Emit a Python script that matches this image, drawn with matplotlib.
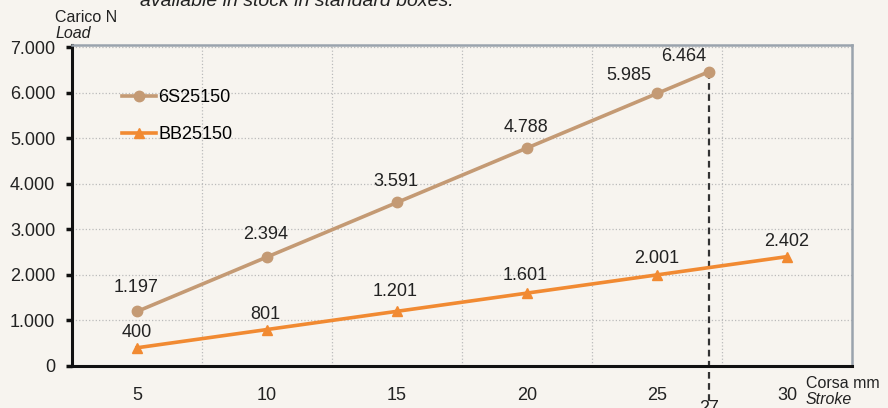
import matplotlib.pyplot as plt
from matplotlib.ticker import FuncFormatter

plt.rcParams['font.family'] = ['Liberation Sans', 'DejaVu Sans']

# --- data ---
x_6s = [5, 10, 15, 20, 25, 27]
load_6s = [1197, 2394, 3591, 4788, 5985, 6464]
x_bb = [5, 10, 15, 20, 25, 30]
load_bb = [400, 801, 1201, 1601, 2001, 2402]
x_ticks = [5, 10, 15, 20, 25, 30]
y_ticks = [0, 1000, 2000, 3000, 4000, 5000, 6000, 7000]

bg = '#f7f4ef'
tan = '#c49a74'
orange = '#f18a32'
ink = '#222222'


def dotted(v):
    return f'{int(v):,}'.replace(',', '.')


fig = plt.figure(figsize=(8.88, 4.08), dpi=100, facecolor=bg)
ax = fig.add_axes([72 / 888, 1 - 366 / 408, 780 / 888, 321 / 408], facecolor=bg)

ax.plot(x_6s, load_6s, color=tan, lw=2.6, marker='o', ms=7.5, label='6S25150', zorder=3)
ax.plot(x_bb, load_bb, color=orange, lw=2.6, marker='^', ms=7.5, label='BB25150', zorder=3)

# value labels (pixel offsets from each point)
off_6s = [(-1, 17), (-1, 16), (-1, 15), (-1, 15), (-20, 13), (-18, 11)]
off_bb = [(0, 11), (-1, 11), (-1, 14), (-1, 13), (0, 12), (0, 11)]
for xs, ys, offs in [(x_6s, load_6s, off_6s), (x_bb, load_bb, off_bb)]:
    for xv, yv, (dx, dy) in zip(xs, ys, offs):
        ax.annotate(dotted(yv), (xv, yv), xytext=(dx, dy), textcoords='offset points',
                    ha='center', va='center', fontsize=13, color=ink)

# dashed marker line at stroke 27
ax.plot([27, 27], [load_6s[-1], -760], color='#333333', lw=1.6, ls=(0, (3, 2)),
        clip_on=False, zorder=2)
ax.text(27, -750, '27', ha='center', va='top', fontsize=13, color=ink)

ax.set_xlim(2.5, 32.5)
ax.set_ylim(0, 7050)
ax.set_yticks(y_ticks)
ax.yaxis.set_major_formatter(FuncFormatter(lambda v, p: dotted(v)))
ax.set_xticks(x_ticks)
ax.set_xticks([7.5, 12.5, 17.5, 22.5, 27.5], minor=True)
ax.tick_params(axis='x', which='both', length=0, labelsize=13, pad=15, colors=ink)
ax.tick_params(axis='y', length=4, width=2.5, labelsize=13, pad=8, labelcolor=ink, color='#111111')

ax.grid(axis='y', which='major', color='#bbbbbb', ls=':', lw=0.9)
ax.grid(axis='x', which='minor', color='#bbbbbb', ls=':', lw=0.9)

ax.spines['left'].set_linewidth(2.2)
ax.spines['bottom'].set_linewidth(2.2)
ax.spines['left'].set_color('#111111')
ax.spines['bottom'].set_color('#111111')
for s in ['top', 'right']:
    ax.spines[s].set_color('#9aa3ad')
    ax.spines[s].set_linewidth(1.8)

leg = ax.legend(loc='upper left', bbox_to_anchor=(0.055, 0.884), frameon=False,
                fontsize=13, handlelength=1.9, handletextpad=0.1, labelspacing=1.1,
                borderaxespad=0)

fig.text(55 / 888, 1 - 17 / 408, 'Carico N', fontsize=11.5, ha='left', va='center', color=ink)
fig.text(55 / 888, 1 - 33 / 408, 'Load', fontsize=11.5, style='italic', ha='left', va='center', color=ink)
fig.text(806 / 888, 1 - 383 / 408, 'Corsa mm', fontsize=11.5, ha='left', va='center', color=ink)
fig.text(806 / 888, 1 - 400 / 408, 'Stroke', fontsize=11.5, style='italic', ha='left', va='center', color=ink)
fig.text(140 / 888, 1 - 2 / 408, 'available in stock in standard boxes.', fontsize=14,
         style='italic', ha='left', va='center', color=ink)

fig.savefig('out.png', dpi=100, facecolor=bg)
